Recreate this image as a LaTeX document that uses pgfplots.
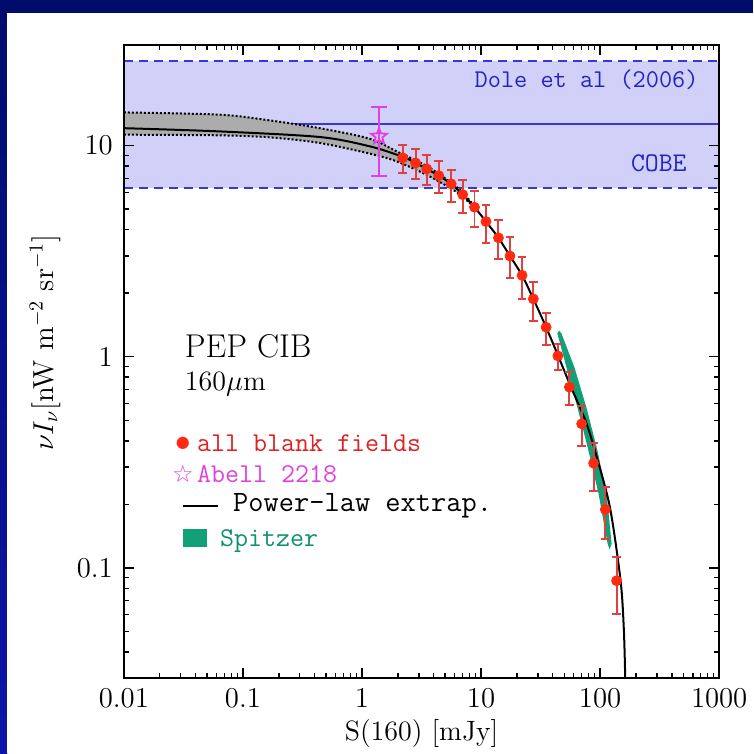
\documentclass[border=0pt]{standalone}
\usepackage{pgfplots}
\pgfplotsset{compat=1.18}
\usepackage{fontspec}
\newfontfamily\dejavu{DejaVu Sans}
\definecolor{navybg}{HTML}{000C6C}
\definecolor{bluebg}{HTML}{0A16A8}
\definecolor{bandblue}{HTML}{D0D0F8}
\definecolor{lineblue}{HTML}{3838D8}
\definecolor{txtblue}{HTML}{2424C4}
\definecolor{ptred}{HTML}{FF2A10}
\definecolor{errred}{HTML}{E04040}
\definecolor{txtred}{HTML}{E02020}
\definecolor{mag}{HTML}{E040E0}
\definecolor{spgreen}{HTML}{12A078}
\definecolor{txtgreen}{HTML}{109070}
\definecolor{bandgray}{HTML}{ACACAC}
\pgfdeclareplotmark{ostar}{%
  \pgfpathmoveto{\pgfpointpolar{90}{\pgfplotmarksize}}%
  \pgfpathlineto{\pgfpointpolar{126}{0.42\pgfplotmarksize}}%
  \pgfpathlineto{\pgfpointpolar{162}{\pgfplotmarksize}}%
  \pgfpathlineto{\pgfpointpolar{198}{0.42\pgfplotmarksize}}%
  \pgfpathlineto{\pgfpointpolar{234}{\pgfplotmarksize}}%
  \pgfpathlineto{\pgfpointpolar{270}{0.42\pgfplotmarksize}}%
  \pgfpathlineto{\pgfpointpolar{306}{\pgfplotmarksize}}%
  \pgfpathlineto{\pgfpointpolar{342}{0.42\pgfplotmarksize}}%
  \pgfpathlineto{\pgfpointpolar{18}{\pgfplotmarksize}}%
  \pgfpathlineto{\pgfpointpolar{54}{0.42\pgfplotmarksize}}%
  \pgfpathclose\pgfusepathqstroke}

\pgfplotstableread{
x y ep em
2.20 8.75 1.35 1.32
2.82 8.28 1.37 1.32
3.50 7.76 1.30 1.22
4.42 7.21 1.22 1.24
5.61 6.59 1.12 1.19
7.02 5.86 1.05 1.05
8.81 5.11 1.01 1.00
11.0 4.37 0.89 0.90
14.0 3.66 0.77 0.77
17.5 3.00 0.70 0.63
22.1 2.43 0.53 0.55
27.5 1.88 0.39 0.41
35.2 1.38 0.24 0.24
44.2 1.01 0.14 0.143
55.2 0.718 0.129 0.128
70.0 0.481 0.101 0.102
88.2 0.313 0.076 0.081
110.6 0.189 0.052 0.052
137.5 0.0869 0.026 0.0265
}\blankfields

\begin{document}
\begin{tikzpicture}
\fill[navybg] (0,0) rectangle (377pt,377pt);
\shade[top color=navybg, bottom color=bluebg] (0,0) rectangle (3.75pt,377pt);
\fill[white] (3.75pt,0) rectangle (377pt,370.5pt);
\begin{axis}[
  at={(62pt,37.5pt)}, anchor=south west,
  scale only axis, width=298pt, height=317pt,
  xmode=log, ymode=log,
  xmin=0.01, xmax=1000, ymin=0.03, ymax=30,
  log ticks with fixed point,
  /pgf/number format/1000 sep={},
  tick align=inside, tick pos=both,
  major tick length=5pt, minor tick length=2.5pt,
  every tick/.style={black, line width=0.75pt},
  axis line style={line width=1pt},
  tick label style={font=\fontsize{13.5}{15}\selectfont},
  yticklabel style={xshift=-2pt},
  xticklabel style={yshift=-2pt},
  every axis x label/.style={at={(rel axis cs:0.5,-0.087)}, anchor=center},
  every axis y label/.style={at={(rel axis cs:-0.1325,0.53)}, rotate=90, anchor=center},
  xlabel={\fontsize{14}{16}\selectfont S(160) [mJy]},
  ylabel={\fontsize{14.5}{16}\selectfont $\nu I_\nu$[nW m$^{-2}$ sr$^{-1}$]},
  axis on top,
]
% Dole et al band
\addplot[fill=bandblue, draw=none] coordinates {(0.01,6.33) (1000,6.33) (1000,25.2) (0.01,25.2)} -- cycle;
\addplot[lineblue, line width=1pt, dash pattern=on 4.5pt off 3pt] coordinates {(0.01,25.2) (1000,25.2)};
\addplot[lineblue, line width=1pt, dash pattern=on 4.5pt off 3pt] coordinates {(0.01,6.33) (1000,6.33)};
\addplot[lineblue, line width=1pt] coordinates {(0.01,12.66) (1000,12.66)};
% gray uncertainty band
\addplot[fill=bandgray, draw=none, smooth] coordinates {
 (0.01,14.37) (0.0638,14.02) (0.168,13.17) (0.441,12.10) (1.16,10.79) (1.95,9.40) (3.69,7.87) (6.59,6.20) (8.8,5.15)
 (8.8,5.07) (6.59,5.90) (3.69,7.16) (1.95,8.43) (1.16,9.17) (0.441,10.30) (0.168,10.95) (0.0638,11.19) (0.01,11.27)} -- cycle;
\addplot[black, densely dotted, line width=1pt, smooth] coordinates {
 (0.01,14.37) (0.0638,14.02) (0.168,13.17) (0.441,12.10) (1.16,10.79) (1.95,9.40) (3.69,7.87) (6.59,6.20) (8.8,5.15)};
\addplot[black, densely dotted, line width=1pt, smooth] coordinates {
 (0.01,11.27) (0.0638,11.19) (0.168,10.95) (0.441,10.30) (1.16,9.17) (1.95,8.43) (3.69,7.16) (6.59,5.90) (8.8,5.07)};
% Spitzer band
\addplot[fill=spgreen, draw=none] coordinates {
 (45.3,1.33) (43.7,1.291) (52.1,0.892) (64.4,0.577) (79.3,0.365) (97.1,0.224) (115.6,0.130) (120,0.122)
 (124.9,0.130) (113.4,0.224) (94.4,0.365) (76.6,0.577) (60.8,0.892) (47.3,1.291)} -- cycle;
% power-law extrapolation
\addplot[black, line width=1pt, smooth] coordinates {
 (0.01,12.1) (0.0638,11.68) (0.441,10.99) (1.16,9.93) (2.14,8.90) (2.82,8.28) (3.50,7.76) (4.42,7.21)
 (5.61,6.59) (7.02,5.86) (8.81,5.11) (11.0,4.37) (14.0,3.66) (17.5,3.00) (22.1,2.43) (27.5,1.88)
 (35.2,1.38) (44.4,1.01) (57.0,0.718) (77.1,0.481) (97.0,0.313) (121.9,0.189) (148.6,0.0869)
 (158.1,0.0515) (162.6,0.03) (165,0.02)};
% all blank fields
\addplot[only marks, mark=*, mark size=2.5pt, color=ptred,
  error bars/.cd, y dir=both, y explicit,
  error bar style={errred, line width=1pt},
  error mark options={errred, line width=1pt, mark size=2.2pt, rotate=90}]
  table[x=x, y=y, y error plus=ep, y error minus=em] {\blankfields};
% Abell 2218
\addplot[only marks, mark=ostar, mark size=4.2pt, color=mag, mark options={line width=0.9pt},
  error bars/.cd, y dir=both, y explicit,
  error bar style={mag, line width=1pt},
  error mark options={mag, line width=1pt, mark size=4.2pt, rotate=90}]
  coordinates {(1.39,11.07) += (0,4.13) -= (0,3.86)};
% texts
\node[inner sep=0pt, anchor=base east, text=txtblue, font=\ttfamily\fontsize{12.8}{14}\selectfont] at (rel axis cs:0.966,0.933) {Dole et al (2006)};
\node[inner sep=0pt, anchor=base east, text=txtblue, font=\ttfamily\fontsize{13.5}{14}\selectfont] at (rel axis cs:0.946,0.800) {COBE};
\node[inner sep=0pt, anchor=base west, font=\fontsize{16.5}{18}\selectfont] at (rel axis cs:0.102,0.506) {PEP CIB};
\node[inner sep=0pt, anchor=base west, font=\fontsize{14}{16}\selectfont] at (rel axis cs:0.102,0.454) {160$\mu$m};
\node[inner sep=0pt, text=ptred] at (rel axis cs:0.099,0.3715) {\dejavu\fontsize{8}{8}\selectfont ●};
\node[inner sep=0pt, anchor=base west, text=txtred, font=\ttfamily\fontsize{13.6}{15}\selectfont] at (rel axis cs:0.1225,0.3585) {all blank fields};
\node[inner sep=0pt, text=mag] at (rel axis cs:0.099,0.322) {\dejavu\fontsize{12}{12}\selectfont ☆};
\node[inner sep=0pt, anchor=base west, text=mag, font=\ttfamily\fontsize{13.6}{15}\selectfont] at (rel axis cs:0.1225,0.309) {Abell 2218};
\draw[black, line width=0.8pt] (rel axis cs:0.099,0.2718) -- (rel axis cs:0.158,0.2718);
\node[inner sep=0pt, anchor=base west, font=\ttfamily\fontsize{14.8}{16}\selectfont] at (rel axis cs:0.183,0.2634) {Power-law extrap.};
\fill[spgreen] (rel axis cs:0.099,0.2066) rectangle (rel axis cs:0.139,0.235);
\node[inner sep=0pt, anchor=base west, text=txtgreen, font=\ttfamily\fontsize{13.6}{15}\selectfont] at (rel axis cs:0.161,0.2087) {Spitzer};
\end{axis}
\end{tikzpicture}
\end{document}
